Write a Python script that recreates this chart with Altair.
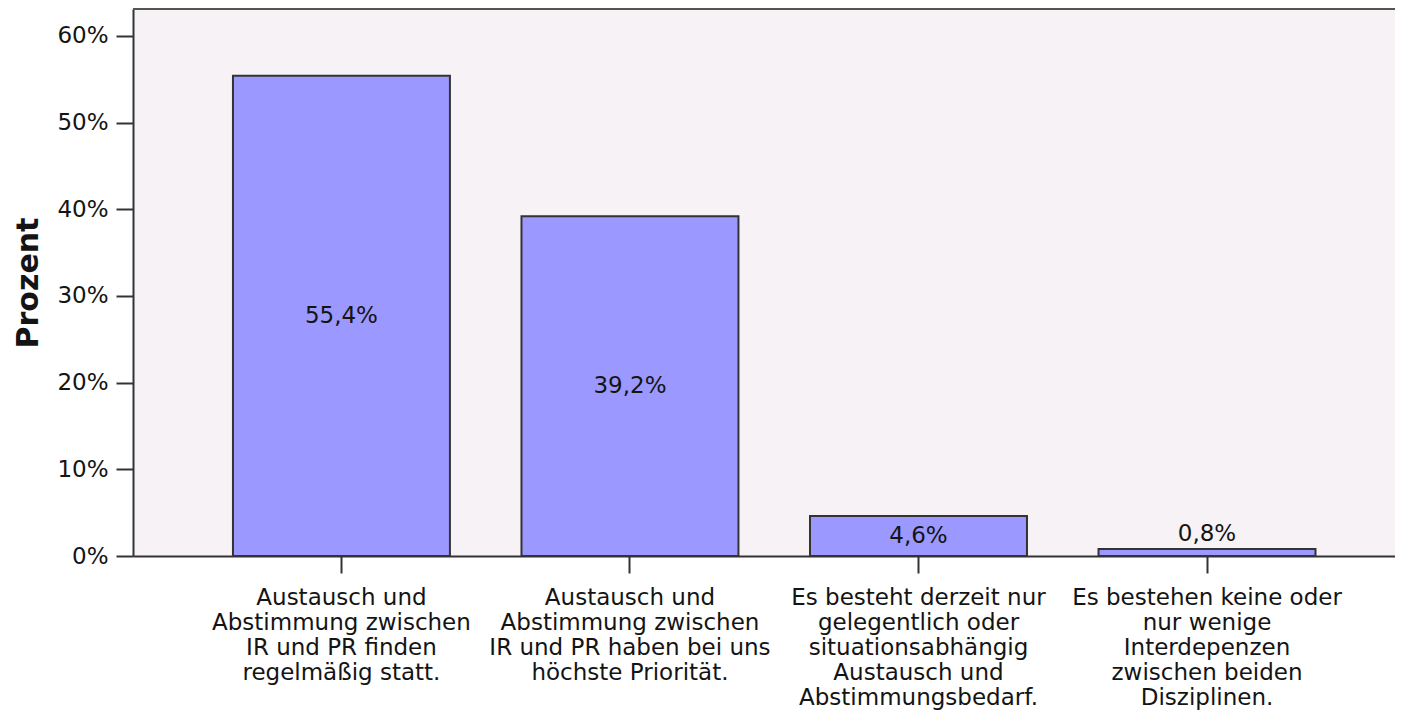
import altair as alt
import pandas as pd

categories = [
    "Austausch und|Abstimmung zwischen|IR und PR finden|regelmäßig statt.",
    "Austausch und|Abstimmung zwischen|IR und PR haben bei uns|höchste Priorität.",
    "Es besteht derzeit nur|gelegentlich oder|situationsabhängig|Austausch und|Abstimmungsbedarf.",
    "Es bestehen keine oder|nur wenige|Interdepenzen|zwischen beiden|Disziplinen.",
]
percent = [55.4, 39.2, 4.6, 0.8]
y_ticks = [0, 10, 20, 30, 40, 50, 60]

df = pd.DataFrame({"kategorie": categories, "prozent": percent})

FONT = "DejaVu Sans"
TXT = "#141414"
W, H = 1262, 547

x_enc = alt.X(
    "kategorie:N",
    sort=categories,
    title=None,
    scale=alt.Scale(paddingInner=0.248, paddingOuter=0.311, align=0.557),
    axis=alt.Axis(
        labelExpr="split(datum.label, '|')",
        labelAngle=0,
        labelFont=FONT,
        labelFontSize=23,
        labelLineHeight=25,
        labelColor=TXT,
        labelPadding=13,
        labelLimit=0,
        tickSize=17,
        tickWidth=2,
        tickColor="#333333",
        domainColor="#333333",
        domainWidth=2,
    ),
)

y_scale = alt.Scale(domain=[0, 63.1], nice=False, zero=True)

y_enc = alt.Y(
    "prozent:Q",
    title="Prozent",
    scale=y_scale,
    axis=alt.Axis(
        values=y_ticks,
        labelExpr="datum.value + '%'",
        grid=False,
        labelFont=FONT,
        labelFontSize=23,
        labelColor=TXT,
        labelPadding=8,
        tickSize=17,
        tickWidth=2,
        tickColor="#333333",
        domainColor="#333333",
        domainWidth=2,
        titleFont=FONT,
        titleFontSize=30,
        titleFontWeight="bold",
        titleColor=TXT,
        titlePadding=13,
    ),
)

base = alt.Chart(df).transform_calculate(
    txt="replace(format(datum.prozent, '.1f'), '.', ',') + '%'",
    mitte="datum.prozent / 2",
)

bars = base.mark_bar(color="#9b98ff", stroke="#333333", strokeWidth=2).encode(
    x=x_enc, y=y_enc
)

inner = base.transform_filter("datum.prozent >= 3").mark_text(
    font=FONT, fontSize=23, color=TXT, baseline="middle"
).encode(
    x=alt.X("kategorie:N", sort=categories),
    y=alt.Y("mitte:Q", title="Prozent", scale=y_scale),
    text="txt:N",
)

outer = base.transform_filter("datum.prozent < 3").mark_text(
    font=FONT, fontSize=23, color=TXT, baseline="bottom", dy=-3
).encode(
    x=alt.X("kategorie:N", sort=categories),
    y=alt.Y("prozent:Q", title="Prozent", scale=y_scale),
    text="txt:N",
)

top_border = alt.Chart(df).mark_rule(color="#555555", strokeWidth=2).encode(
    y=alt.value(0), x=alt.value(0), x2=alt.value(W)
)

chart = (
    alt.layer(bars, inner, outer, top_border)
    .properties(
        width=W,
        height=H,
        autosize=alt.AutoSizeParams(type="none"),
        padding={"left": 125, "top": 1, "right": 0, "bottom": 156},
        background="white",
    )
    .configure_view(stroke=None, fill="#f7f2f6")
)

chart.save("out.html", embed_options={"renderer": "svg", "actions": False})
